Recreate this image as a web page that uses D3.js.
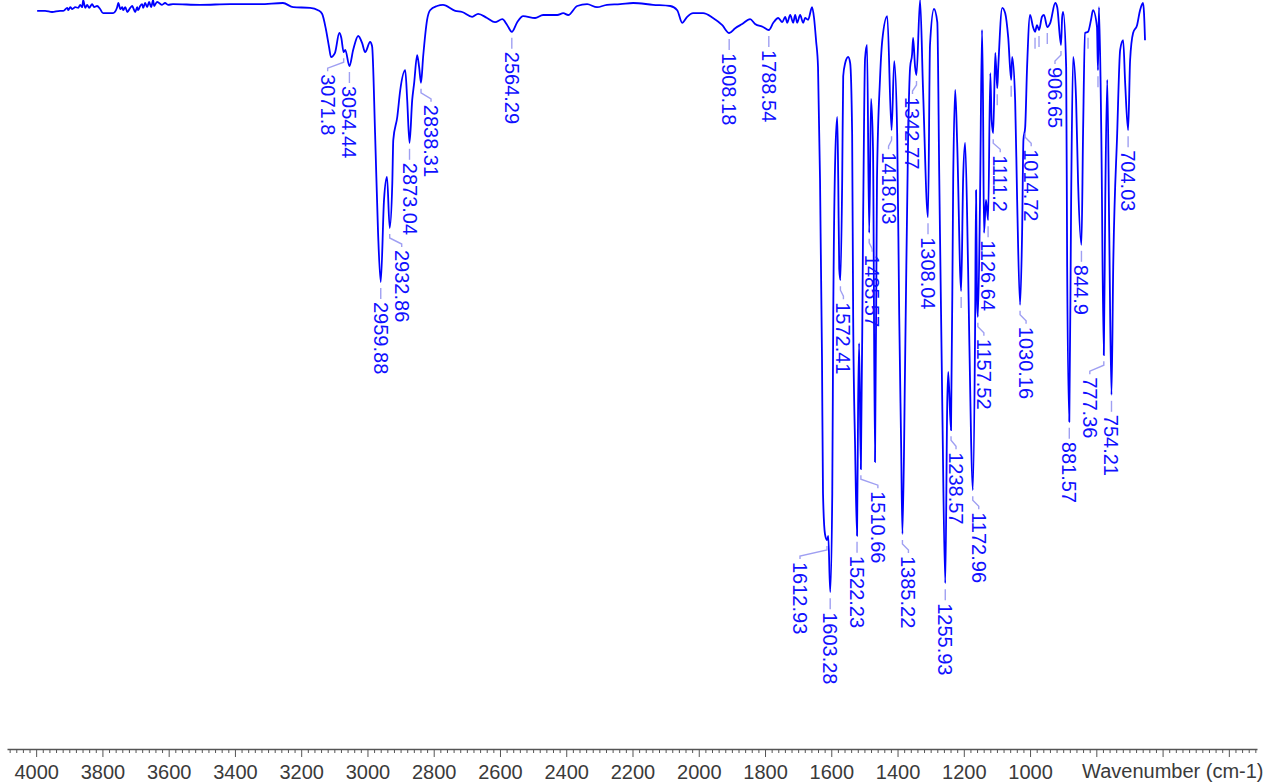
<!DOCTYPE html>
<html>
<head>
<meta charset="utf-8">
<script src="https://cdn.jsdelivr.net/npm/d3@7/dist/d3.min.js"></script>
<style>
  body { margin: 0; background: #fff; }
  svg { display: block; font-family: "Liberation Sans", Arial, sans-serif; }
</style>
</head>
<body>
<div id="chart"></div>
<script>
// IR spectrum: [wavenumber (cm-1), transmittance (%)]
var spectrum = [
  [3997, 98.2], [3973, 98.2], [3952, 98.0], [3928, 98.2], [3918, 98.2], [3906, 98.7], [3903, 98.3],
  [3897, 98.8], [3891, 98.5], [3882, 98.8], [3873, 98.7], [3867, 99.2], [3861, 98.8], [3858, 100],
  [3852, 98.7], [3846, 99.2], [3840, 98.7], [3831, 99.3], [3825, 98.8], [3816, 99.0], [3807, 98.5],
  [3798, 97.8], [3786, 97.8], [3777, 97.8], [3768, 97.8], [3756, 98.7], [3752, 99.5], [3746, 98.5],
  [3740, 98.8], [3737, 98.3], [3731, 98.8], [3725, 98.0], [3716, 98.7], [3710, 99.0], [3707, 98.7],
  [3701, 98.0], [3695, 98.8], [3692, 98.3], [3686, 99.0], [3680, 99.3], [3677, 98.7], [3671, 99.5],
  [3665, 98.8], [3659, 99.7], [3653, 98.8], [3647, 100], [3644, 99.0], [3635, 99.7], [3629, 99.5],
  [3620, 99.2], [3611, 99.5], [3602, 99.2], [3587, 99.3], [3505, 99.2], [3414, 99.3], [3324, 99.3],
  [3255, 99.5], [3224, 98.8], [3173, 98.7], [3149, 98.3],
  [3137, 97.7], [3125, 95.0], [3116, 92.2], [3110, 90.5], [3098, 91.2], [3085, 94.5], [3079, 93.7],
  [3071.8, 91.3], [3067, 91.7], [3054.44, 89.0], [3043, 91.7], [3028, 94.0], [3016, 92.8], [3007, 91.3],
  [2992, 93.0], [2986, 92.3], [2977, 77.8], [2968, 61.2], [2959.88, 53.0], [2950, 66.7], [2941, 70.5],
  [2932.86, 62.0], [2925, 69.5], [2922, 76.7], [2910, 80.5], [2901, 85.0], [2886, 88.3], [2880, 83.3],
  [2873.04, 76.2], [2865, 83.3], [2859, 86.2], [2850, 90.8], [2844, 88.8], [2838.31, 86.2], [2832, 90.5],
  [2820, 96.7], [2811, 98.3], [2790, 99.0],
  [2772, 99.2], [2735, 98.2], [2714, 98.0], [2684, 97.2], [2666, 97.7], [2639, 97.0], [2615, 96.3],
  [2593, 96.8], [2578, 95.8], [2564.29, 94.7], [2548, 96.3], [2530, 97.3], [2494, 97.0], [2470, 97.5],
  [2427, 97.5], [2409, 97.8], [2394, 97.5], [2367, 99.0], [2337, 99.3], [2307, 98.8], [2277, 99.2],
  [2237, 99.3], [2198, 99.5], [2138, 99.2], [2086, 99.0], [2065, 98.3], [2050, 96.2], [2035, 97.2],
  [2017, 97.8], [1987, 97.8], [1957, 97.0], [1929, 95.8], [1908.18, 94.5], [1890, 95.3], [1869, 96.0],
  [1845, 96.8], [1830, 96.0], [1806, 95.5], [1788.54, 95.0], [1775, 96.2], [1760, 97.0], [1748, 96.3],
  [1739, 97.2], [1733, 96.2], [1724, 97.5], [1715, 96.2], [1709, 97.5], [1703, 96.2], [1694, 97.5],
  [1685, 96.2], [1679, 97.0], [1670, 96.7], [1658, 98.8], [1652, 97.0], [1646, 93.3],
  [1640, 88.8], [1634, 70.2], [1628, 40.2], [1625, 17.8], [1619, 11.0], [1612.93, 10.0], [1609, 10.7],
  [1603.28, 1.3], [1597, 17.8], [1594, 47.7], [1588, 73.8], [1582, 80.5], [1579, 70.2], [1576, 55.2],
  [1572.41, 53.3], [1567, 70.2], [1564, 87.3], [1558, 89.5], [1549, 90.5], [1543, 89.5], [1537, 77.5],
  [1534, 47.7], [1528, 25.3], [1522.23, 10.7], [1519, 32.7], [1516, 42.8], [1510.66, 21.8], [1504, 62.7],
  [1498, 90.3], [1492, 92.5], [1485.57, 61.2], [1480, 83.5], [1474, 75.0], [1468, 23.0], [1462, 70.2],
  [1453, 86.7], [1446, 93.3], [1431, 97.3], [1418.03, 78.3], [1410, 89.8], [1401, 77.5], [1395, 47.7],
  [1389, 25.3], [1385.22, 11.0], [1377, 40.2], [1368, 77.5], [1362, 88.8], [1356, 91.0], [1353, 93.7],
  [1347, 88.8], [1342.77, 87.5], [1332, 100], [1323, 85.0], [1308.04, 63.8], [1302, 92.5], [1290, 98.5],
  [1280, 96.3], [1274, 70.2], [1265, 32.7], [1255.93, 2.8], [1250, 32.7], [1247, 38.0], [1238.57, 28.3],
  [1232, 70.2], [1226, 85.0], [1220, 76.2], [1208, 51.5], [1202, 70.2], [1196, 76.2], [1187, 55.2],
  [1178, 26.7], [1172.96, 18.3], [1166, 44.5], [1163, 68.3], [1160, 50.0], [1157.52, 47.2], [1151, 66.7],
  [1145, 95.0], [1142, 83.3], [1139, 61.2], [1133, 66.7], [1126.64, 63.3], [1120, 87.8], [1116, 80.0],
  [1111.2, 77.8], [1105, 91.2], [1099, 85.3], [1096, 88.8], [1084, 98.7], [1075, 97.8], [1066, 93.8],
  [1057, 86.7], [1054, 90.5], [1045, 83.3], [1039, 66.7], [1030.16, 49.2], [1024, 61.2], [1020, 76.7],
  [1014.72, 78.8], [1009, 88.8], [1000, 97.5], [991, 95.5], [985, 94.7], [979, 95.8], [973, 95.0],
  [964, 97.2], [958, 97.5], [948, 95.5], [939, 96.2], [924, 99.5], [918, 98.8], [906.65, 92.5],
  [903, 97.2], [900, 98.0], [891, 88.8], [888, 55.5], [881.57, 29.7], [876, 66.7], [870, 90.5],
  [861, 83.3], [855, 69.5], [844.9, 59.2], [840, 77.8], [834, 94.5], [825, 94.7], [816, 96.7],
  [810, 98.3], [798, 95.5], [795, 88.3], [792, 98.8], [785, 77.8], [777.36, 40.8], [773, 66.7],
  [767, 86.7], [761, 61.2], [754.21, 34.2], [749, 55.5], [737, 77.8], [728, 91.7], [719, 93.3],
  [713, 86.2], [704.03, 78.3], [698, 90.0], [689, 94.5], [677, 95.8], [668, 98.3], [659, 99.5],
  [656, 97.8], [653, 93.3]
];

// picked peaks with labels
var peaks = [3071.8, 3054.44, 2959.88, 2932.86, 2873.04, 2838.31, 2564.29, 1908.18, 1788.54,
  1612.93, 1603.28, 1572.41, 1522.23, 1510.66, 1485.57, 1418.03, 1385.22, 1342.77, 1308.04,
  1255.93, 1238.57, 1172.96, 1157.52, 1126.64, 1111.2, 1030.16, 1014.72, 906.65, 881.57,
  844.9, 777.36, 754.21, 704.03];

// picked peaks whose labels are hidden (only the leader shows)
var hiddenPeaks = [1208, 1099, 1057, 985, 973, 948, 825, 795];

var majorTicks = [4000, 3800, 3600, 3400, 3200, 3000, 2800, 2600, 2400, 2200, 2000, 1800, 1600, 1400, 1200, 1000, 800, 600, 400];
var tickLabels = ["4000", "3800", "3600", "3400", "3200", "3000", "2800", "2600", "2400", "2200", "2000", "1800", "1600", "1400", "1200", "1000"];

// label nudges (px) where labels were pushed sideways
var labelShift = {
  "3071.8": -16, "2932.86": 12, "2838.31": 10, "1612.93": -27, "1572.41": 3, "1510.66": 17,
  "1485.57": 3, "1418.03": -3, "1385.22": 6, "1342.77": -4, "1238.57": 5, "1172.96": 6,
  "1157.52": 6, "1111.2": 7, "1030.16": 6, "1014.72": 6, "906.65": -6, "777.36": -14
};

var width = 1265, height = 782;
var axisY = 749;

var svg = d3.select("#chart").append("svg")
  .attr("width", width)
  .attr("height", height);

var x = d3.scaleLinear().domain([4088, 315]).range([7, 1257]);
var y = d3.scaleLinear().domain([0, 100]).range([600, 0]);

// spectrum line
var line = d3.line()
  .x(function(d) { return x(d[0]); })
  .y(function(d) { return y(d[1]); })
  .curve(d3.curveMonotoneX);

svg.append("path")
  .datum(spectrum)
  .attr("fill", "none")
  .attr("stroke", "#0000ff")
  .attr("stroke-width", 1.8)
  .attr("stroke-linejoin", "round")
  .attr("d", line);

function lookup(wn) {
  return spectrum.find(function(d) { return d[0] === wn; });
}

var leaderColor = "#9f9ff2";

// hidden peak leaders
hiddenPeaks.forEach(function(wn) {
  var p = lookup(wn);
  var px = x(p[0]), py = y(p[1]);
  svg.append("line")
    .attr("x1", px).attr("x2", px)
    .attr("y1", py + 6).attr("y2", py + 17)
    .attr("stroke", leaderColor)
    .attr("stroke-width", 1.4);
});

// labelled peaks
peaks.forEach(function(wn) {
  var p = lookup(wn);
  var px = x(p[0]), py = y(p[1]);
  var key = String(wn);
  var s = labelShift[key] || 0;
  var ty;
  if (s === 0) {
    svg.append("line")
      .attr("x1", px).attr("x2", px)
      .attr("y1", py + 6).attr("y2", py + 17)
      .attr("stroke", leaderColor)
      .attr("stroke-width", 1.4);
    ty = py + 20;
  } else {
    svg.append("path")
      .attr("d", "M" + px + "," + (py + 6) + "L" + px + "," + (py + 10) +
        "L" + (px + s) + "," + (py + 16) + "L" + (px + s) + "," + (py + 19))
      .attr("fill", "none")
      .attr("stroke", leaderColor)
      .attr("stroke-width", 1.4);
    ty = py + 22;
  }
  svg.append("text")
    .attr("transform", "translate(" + (px + s) + "," + ty + ") rotate(90)")
    .attr("dy", "0.35em")
    .attr("fill", "#1010ff")
    .style("font-size", "20px")
    .text(key);
});

// x axis: minor ticks every 20, major every 200
var minorTicks = d3.range(4080, 315, -20).filter(function(v) { return v % 200 !== 0; });

svg.append("g")
  .attr("transform", "translate(0," + axisY + ")")
  .call(d3.axisBottom(x).tickValues(minorTicks).tickSize(4).tickSizeOuter(0).tickFormat(""))
  .call(function(g) {
    g.select(".domain").attr("stroke", "#555").attr("stroke-width", 1.5);
    g.selectAll(".tick line").attr("stroke", "#555");
  });

svg.append("g")
  .attr("transform", "translate(0," + axisY + ")")
  .call(d3.axisBottom(x).tickValues(majorTicks).tickSize(8).tickSizeOuter(0).tickPadding(8)
    .tickFormat(function(d) { return tickLabels.indexOf(String(d)) >= 0 ? String(d) : ""; }))
  .call(function(g) {
    g.select(".domain").remove();
    g.selectAll(".tick line").attr("stroke", "#555");
    g.selectAll(".tick text")
      .attr("fill", "#3a3a3a")
      .style("font-size", "20px")
      .style("font-family", "'Liberation Sans', Arial, sans-serif");
  });

svg.append("text")
  .attr("x", 1082)
  .attr("y", 778)
  .attr("fill", "#3a3a3a")
  .style("font-size", "20px")
  .text("Wavenumber (cm-1)");
</script>
</body>
</html>
